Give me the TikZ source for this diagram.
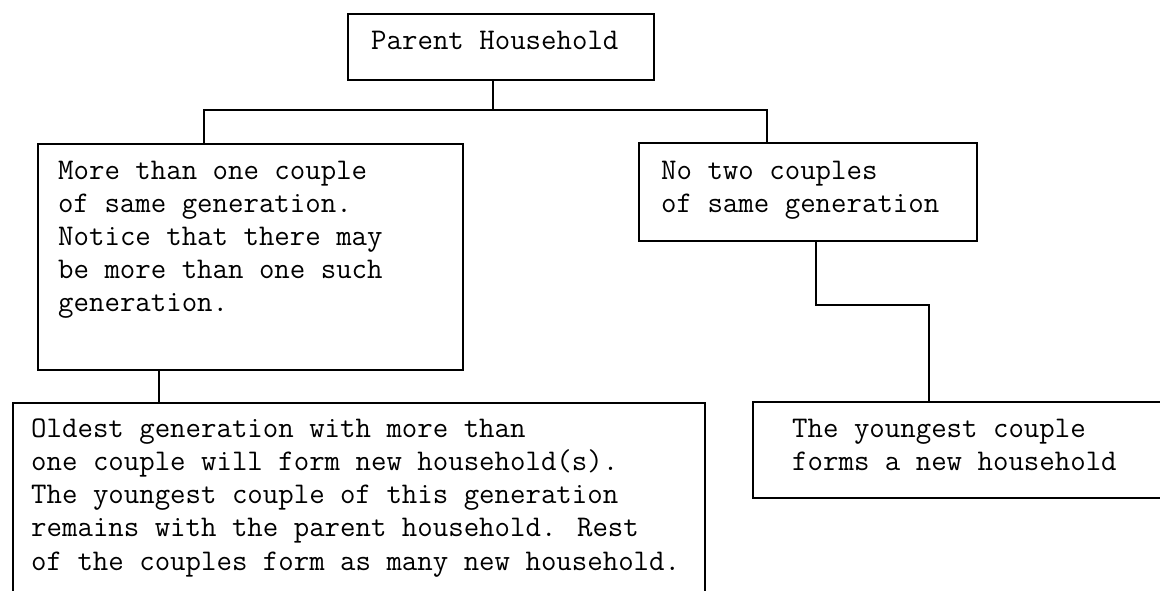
\documentclass[tikz,border=0pt]{standalone}
\begin{document}
\begin{tikzpicture}[x=1pt,y=-1pt,
  box/.style={draw, line width=2pt, rectangle, inner sep=0pt, anchor=north west},
  txt/.style={inner sep=0pt, anchor=base west, align=left,
    font=\fontsize{30}{33.2}\selectfont\ttfamily},
  wire/.style={line width=2pt}]
\fill[white] (0,0) rectangle (1160,591);
\useasboundingbox (0,0) rectangle (1160,591);
\clip (0,0) rectangle (1160,591);
% boxes
\node[box, minimum width=306pt, minimum height=66pt] (parent) at (347,13) {};
\node[box, minimum width=425pt, minimum height=226pt] (left) at (37,143) {};
\node[box, minimum width=338pt, minimum height=98pt] (notwo) at (638,142) {};
\node[box, minimum width=692pt, minimum height=230pt] (oldest) at (12,402) {};
\node[box, minimum width=430pt, minimum height=96pt] (young) at (752,401) {};
% texts (anchored at the baseline of the last line)
\node[txt] (tparent) at (371,50) {Parent Household};
\node[txt] (tleft) at (58,311.8) {More than one couple\\of same generation.\\Notice that there may\\be more than one such\\generation.};
\node[txt] (tnotwo) at (661,212.2) {No two couples\\of same generation};
\node[txt] (toldest) at (31,570) {Oldest generation with more than\\one couple will form new household(s).\\The youngest couple of this generation\\remains with the parent household. Rest\\of the couples form as many new household.};
\node[txt] (tyoung) at (792,470.2) {The youngest couple\\forms a new household};
% connectors
\coordinate (hub) at (493,110);
\coordinate (jl) at (204,110);
\coordinate (jr) at (767,110);
\coordinate (jd) at (159,385);
\coordinate (k1) at (816,305);
\coordinate (k2) at (929,305);
\draw[wire] (parent.south -| hub) -- (hub);
\draw[wire] (left.north -| jl) -- (jl) -- (jr) -- (notwo.north -| jr);
\draw[wire] (left.south -| jd) -- (oldest.north -| jd);
\draw[wire] (notwo.south -| k1) -- (k1) -- (k2) -- (young.north -| k2);
\end{tikzpicture}
\end{document}
